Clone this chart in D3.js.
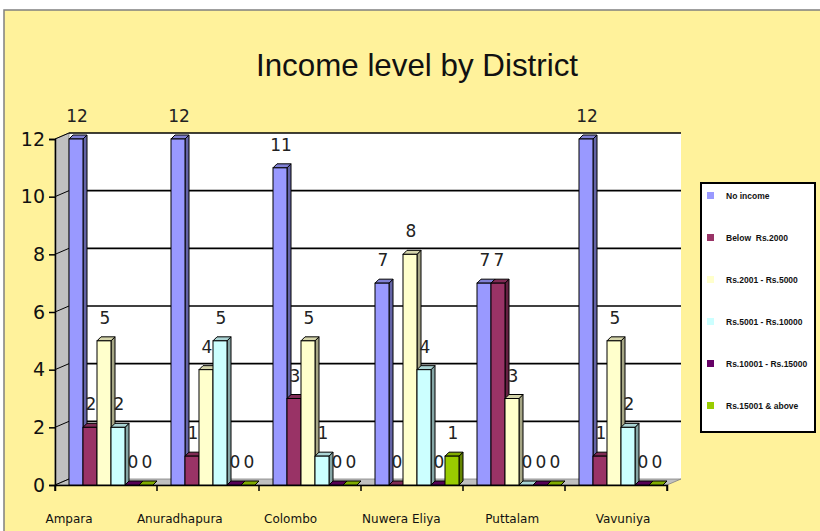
<!DOCTYPE html>
<html>
<head>
<meta charset="utf-8">
<script src="https://cdn.jsdelivr.net/npm/d3@7"></script>
<style>
  body { margin: 0; background: #fff; }
  text { font-family: "DejaVu Sans", Verdana, sans-serif; }
</style>
</head>
<body>
<svg id="chart" width="820" height="531"></svg>
<script>
var districts = ['Ampara', 'Anuradhapura', 'Colombo', 'Nuwera Eliya', 'Puttalam', 'Vavuniya'];
var series = ['No income', 'Below  Rs.2000', 'Rs.2001 - Rs.5000', 'Rs.5001 - Rs.10000', 'Rs.10001 - Rs.15000', 'Rs.15001 & above'];
var noIncome = [12, 12, 11, 7, 7, 12];
var below2000 = [2, 1, 3, 0, 7, 1];
var rs2001to5000 = [5, 4, 5, 8, 3, 5];
var rs5001to10000 = [2, 5, 1, 4, 0, 2];
var rs10001to15000 = [0, 0, 0, 0, 0, 0];
var rs15001up = [0, 0, 0, 1, 0, 0];
var yTicks = [0, 2, 4, 6, 8, 10, 12];

var colors = ['#9999ff', '#993366', '#ffffcc', '#ccffff', '#660066', '#99cc00'];
var seriesValues = [noIncome, below2000, rs2001to5000, rs5001to10000, rs10001to15000, rs15001up];

var svg = d3.select('#chart');
const height = +svg.attr('height');
const width = +svg.attr('width');

// chart area
svg.append('rect')
    .attr('x', 4).attr('y', 10)
    .attr('width', width).attr('height', height)
    .attr('fill', '#fff29b')
    .attr('stroke', '#808080').attr('stroke-width', 1.5);

svg.append('text')
    .attr('x', 256).attr('y', 76)
    .attr('textLength', 322).attr('lengthAdjust', 'spacingAndGlyphs')
    .style('font-family', '"Liberation Sans", Arial, sans-serif')
    .style('font-size', '32px')
    .attr('fill', '#111')
    .text('Income level by District');

const plotLeft = 55, plotRight = 667, plotBottom = 485, plotTop = 139;
const dx = 14, dy = -6;   // depth of the back wall
const bdx = 4, bdy = -4;  // depth of each column

var x = d3.scaleBand().domain(districts).range([plotLeft, plotRight]);
var xSub = d3.scaleBand().domain(series).range([0, 84]);
var y = d3.scaleLinear().domain([0, 12]).range([plotBottom, plotTop]);

// back wall
svg.append('rect')
    .attr('x', plotLeft + dx).attr('y', y(12) + dy)
    .attr('width', plotRight - plotLeft).attr('height', y(0) - y(12))
    .attr('fill', '#fff');
// side wall
svg.append('path')
    .attr('d', `M${plotLeft},${y(0)} L${plotLeft},${y(12)} L${plotLeft + dx},${y(12) + dy} L${plotLeft + dx},${y(0) + dy} Z`)
    .attr('fill', '#c0c0c0').attr('stroke', '#808080').attr('stroke-width', 0.8);
// floor
svg.append('path')
    .attr('d', `M${plotLeft},${y(0)} L${plotRight},${y(0)} L${plotRight + dx},${y(0) + dy} L${plotLeft + dx},${y(0) + dy} Z`)
    .attr('fill', '#c0c0c0').attr('stroke', '#808080').attr('stroke-width', 0.8);

// gridlines on back wall
svg.append('g').selectAll('line')
    .data(yTicks.filter(d => d > 0))
    .enter().append('line')
    .attr('x1', plotLeft + dx).attr('x2', plotRight + dx)
    .attr('y1', d => y(d) + dy).attr('y2', d => y(d) + dy)
    .attr('stroke', '#000').attr('stroke-width', 1.6);
// diagonal tick lines on the side wall
svg.append('g').selectAll('line')
    .data(yTicks)
    .enter().append('line')
    .attr('x1', plotLeft).attr('x2', plotLeft + dx)
    .attr('y1', d => y(d)).attr('y2', d => y(d) + dy)
    .attr('stroke', '#000').attr('stroke-width', 1);

// axes
var yAxis = svg.append('g')
    .attr('transform', `translate(${plotLeft},0)`)
    .call(d3.axisLeft(y).tickValues(yTicks).tickSize(6).tickPadding(4));
yAxis.selectAll('text').style('font-size', '19px').attr('fill', '#111');
yAxis.selectAll('line, path').attr('stroke', '#000').attr('stroke-width', 1.5);

var xAxis = svg.append('g')
    .attr('transform', `translate(0,${plotBottom})`)
    .call(d3.axisBottom(x).tickSize(6).tickFormat(''));
xAxis.selectAll('.tick').remove();
xAxis.select('path').attr('stroke', '#000').attr('stroke-width', 1.5);
xAxis.selectAll('line.tk')
    .data(d3.range(districts.length + 1))
    .enter().append('line')
    .attr('class', 'tk')
    .attr('x1', i => plotLeft + i * x.step()).attr('x2', i => plotLeft + i * x.step())
    .attr('y1', 0).attr('y2', 6)
    .attr('stroke', '#000').attr('stroke-width', 1.5);

var xLabel = d3.scalePoint().domain(districts).range([69, 623]);
svg.append('g').selectAll('text')
    .data(districts)
    .enter().append('text')
    .attr('x', d => xLabel(d)).attr('y', 523)
    .attr('text-anchor', 'middle')
    .style('font-size', '12px')
    .attr('fill', '#111')
    .text(d => d);

// columns, each drawn with its label so later columns cover earlier labels
var bars = [];
districts.forEach(function(d, di) {
    series.forEach(function(s, si) {
        bars.push({district: d, series: s, color: colors[si], value: seriesValues[si][di]});
    });
});

var barG = svg.append('g');
bars.forEach(function(b) {
    var bx = x(b.district) + dx + xSub(b.series);
    var bw = xSub.bandwidth();
    var by = y(b.value);
    var g = barG.append('g');
    var c = d3.color(b.color);
    // side face
    g.append('path')
        .attr('d', `M${bx + bw},${plotBottom} L${bx + bw},${by} L${bx + bw + bdx},${by + bdy} L${bx + bw + bdx},${plotBottom + bdy} Z`)
        .attr('fill', c.darker(1.2)).attr('stroke', '#000').attr('stroke-width', 1);
    // top face
    g.append('path')
        .attr('d', `M${bx},${by} L${bx + bdx},${by + bdy} L${bx + bw + bdx},${by + bdy} L${bx + bw},${by} Z`)
        .attr('fill', c.darker(0.5)).attr('stroke', '#000').attr('stroke-width', 1);
    // front face
    if (b.value > 0) {
        g.append('rect')
            .attr('x', bx).attr('y', by)
            .attr('width', bw).attr('height', plotBottom - by)
            .attr('fill', b.color).attr('stroke', '#000').attr('stroke-width', 1);
    }
    g.append('text')
        .attr('x', bx + bw / 2 + 1).attr('y', by - 17)
        .attr('text-anchor', 'middle')
        .style('font-size', '17px')
        .attr('fill', '#222')
        .text(b.value);
});

// legend
var legend = svg.append('g').attr('transform', 'translate(701,183)');
legend.append('rect')
    .attr('width', 114).attr('height', 249)
    .attr('fill', '#fff').attr('stroke', '#000').attr('stroke-width', 2);
var item = legend.selectAll('.item').data(series)
    .enter().append('g')
    .attr('class', 'item')
    .attr('transform', (d, i) => `translate(6,${9 + i * 42})`);
item.append('rect')
    .attr('width', 7).attr('height', 7)
    .attr('fill', (d, i) => colors[i]);
item.append('text')
    .attr('x', 19).attr('y', 7)
    .style('white-space', 'pre')
    .style('font-family', '"Liberation Sans", Arial, sans-serif')
    .style('font-size', '8.5px').style('font-weight', 'bold')
    .attr('fill', '#111')
    .text(d => d);
</script>
</body>
</html>
